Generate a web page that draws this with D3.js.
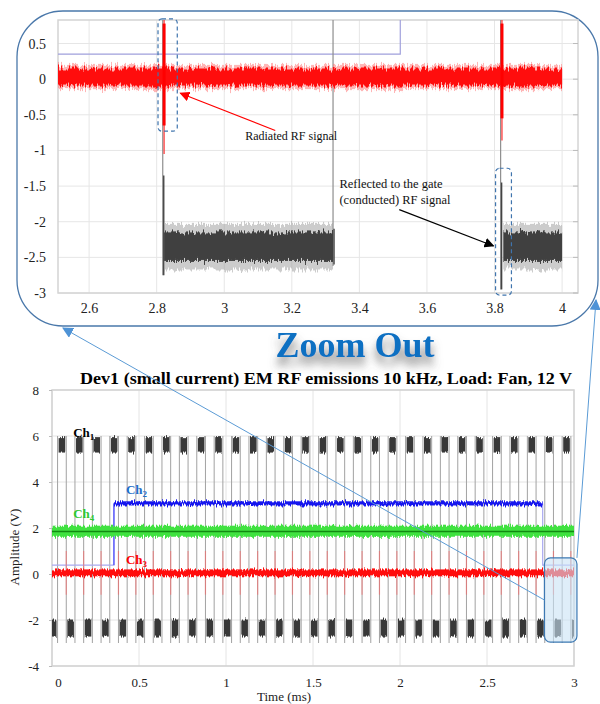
<!DOCTYPE html>
<html>
<head>
<meta charset="utf-8">
<script src="https://cdn.jsdelivr.net/npm/d3@7"></script>
<style>
body { margin: 0; background: #fff; }
svg { display: block; font-family: 'Liberation Serif', 'Times New Roman', serif; }
</style>
</head>
<body>
<svg id="chart" width="600" height="704"></svg>
<script>
// ---- main chart (0 - 3 ms) ----
const xTicks = [0, 0.5, 1, 1.5, 2, 2.5, 3]
const yTicks = [-4, -2, 0, 2, 4, 6, 8]

// Ch1 square wave edges (ms)
const ch1Rise = [0.032, 0.132, 0.232, 0.332, 0.432, 0.532, 0.632, 0.732, 0.832, 0.932,
    1.032, 1.132, 1.232, 1.332, 1.432, 1.532, 1.632, 1.732, 1.832, 1.932,
    2.032, 2.132, 2.232, 2.332, 2.432, 2.532, 2.632, 2.732, 2.832, 2.932]
const ch1Fall = [0.082, 0.182, 0.282, 0.382, 0.482, 0.582, 0.682, 0.782, 0.882, 0.982,
    1.082, 1.182, 1.282, 1.382, 1.482, 1.582, 1.682, 1.782, 1.882, 1.982,
    2.082, 2.182, 2.282, 2.382, 2.482, 2.582, 2.682, 2.782, 2.882, 2.982]
const ch1HighBand = [5.28, 5.95]
const ch1LowBand = [-2.72, -1.98]
const ch1EdgeRange = [-3.0, 6.0]

// Ch2 gate enable
const ch2Times = [0.356, 2.82]
const ch2Band = [2.98, 3.16]
const ch2Idle = [0.39]

// Ch3 radiated RF, Ch4 supply
const ch3Band = [-0.1, 0.2]
const ch3SpikeRange = [-0.9, 1.0]
const ch4Band = [1.62, 2.1]
const ch4Mid = [1.85]

// highlighted region in the main chart
const zoomBoxT = [2.83, 3.017]
const zoomBoxV = [-2.96, 0.7]

// ---- zoomed inset (2.5 - 4 ms) ----
const insetXTicks = [2.6, 2.8, 3, 3.2, 3.4, 3.6, 3.8, 4]
const insetYTicks = [-3, -2.5, -2, -1.5, -1, -0.5, 0, 0.5]
const insetRedBand = [-0.09, 0.15]
const insetRedEnd = [4.0]
const insetSpikeTimes = [2.822, 3.822]
const insetSpikeTop = [0.83, 0.83]
const insetSpikeBottom = [-1.05, -0.86]
const insetSpikeDense = [-0.65, -0.55]
const insetBlackStart = [2.822, 3.826]
const insetBlackEnd = [3.322, 4.0]
const insetBlackBand = [-2.55, -2.15]
const insetEdgeTimes = [2.818, 3.322, 3.818]
const insetEdgeFrom = [0.83, -2.62, 0.83]
const insetEdgeTo = [-2.75, 0.83, -2.95]
const insetDarkFrom = [-1.35, -2.6, -1.45]
const insetDarkTo = [-2.75, -2.1, -2.95]
const insetCh2T = [2.508, 3.521, 3.521]
const insetCh2V = [0.35, 0.35, 0.83]

const svg = d3.select('#chart')
const defs = svg.append('defs')

// jagged edges: vertical-only displacement of the bands
const addRough = (id, freq, scale) => {
    const f = defs.append('filter').attr('id', id).attr('filterUnits', 'userSpaceOnUse')
        .attr('x', 0).attr('y', 0).attr('width', 600).attr('height', 704)
    f.append('feTurbulence').attr('type', 'fractalNoise').attr('baseFrequency', freq)
        .attr('numOctaves', 2).attr('seed', 7).attr('result', 'n')
    f.append('feColorMatrix').attr('in', 'n').attr('type', 'matrix')
        .attr('values', '0 0 0 0 0.5  0 1 0 0 0  0 0 0 0 0  0 0 0 0 1').attr('result', 'ny')
    f.append('feDisplacementMap').attr('in', 'SourceGraphic').attr('in2', 'ny').attr('scale', scale)
        .attr('xChannelSelector', 'R').attr('yChannelSelector', 'G')
}
addRough('rough', '0.9 0.06', 7)
addRough('roughBig', '0.7 0.05', 12)

const shadow = defs.append('filter').attr('id', 'shadow').attr('x', '-20%').attr('y', '-40%').attr('width', '140%').attr('height', '200%')
shadow.append('feDropShadow').attr('dx', 0).attr('dy', 8).attr('stdDeviation', 5)
    .attr('flood-color', '#555').attr('flood-opacity', 0.75)

const addArrow = (id, color, size) => {
    defs.append('marker').attr('id', id).attr('viewBox', '0 0 10 10').attr('refX', 9).attr('refY', 5)
        .attr('markerWidth', size).attr('markerHeight', size).attr('markerUnits', 'userSpaceOnUse')
        .attr('orient', 'auto')
        .append('path').attr('d', 'M0,0 L10,5 L0,10 z').attr('fill', color)
}
addArrow('arRed', '#ff0000', 10)
addArrow('arBlack', '#000', 10)
addArrow('arBlue', '#4f93d6', 11)

// ================= main chart =================
const x = d3.scaleLinear().domain([0, 3]).range([52, 574])
const y = d3.scaleLinear().domain([-4, 8]).range([666, 390])

const main = svg.append('g')
main.selectAll('.gx').data(xTicks).enter().append('line')
    .attr('x1', d => x(d)).attr('x2', d => x(d)).attr('y1', y(-4)).attr('y2', y(8))
    .attr('stroke', '#e4e4e4')
main.selectAll('.gy').data(yTicks).enter().append('line')
    .attr('x1', x(0)).attr('x2', x(3)).attr('y1', d => y(d)).attr('y2', d => y(d))
    .attr('stroke', '#e4e4e4')
main.append('rect').attr('x', x(0)).attr('y', y(8)).attr('width', x(3) - x(0)).attr('height', y(-4) - y(8))
    .attr('fill', 'none').attr('stroke', '#d2d2d2').attr('stroke-width', 1.5)

const yAxis = main.append('g').attr('transform', `translate(${x(0)},0)`)
    .call(d3.axisLeft(y).tickValues(yTicks).tickSize(3).tickPadding(10).tickFormat(d => String(d)))
yAxis.select('.domain').remove()
yAxis.selectAll('line').attr('stroke', '#bbb')
yAxis.selectAll('text').attr('font-size', 13).attr('font-family', 'Liberation Serif').attr('fill', '#222')

const xAxis = main.append('g').attr('transform', `translate(0,${y(-4)})`)
    .call(d3.axisBottom(x).tickValues(xTicks).tickSize(0).tickPadding(12).tickFormat(d => String(d)))
xAxis.select('.domain').remove()
xAxis.selectAll('text').attr('font-size', 13).attr('font-family', 'Liberation Serif').attr('fill', '#222')
    .attr('dx', d => d === 0 ? 6 : 0)

// Ch1 edges
const ch1Edges = ch1Rise.concat(ch1Fall)
main.selectAll('.edge').data(ch1Edges).enter().append('line')
    .attr('x1', d => x(d)).attr('x2', d => x(d))
    .attr('y1', y(ch1EdgeRange[0])).attr('y2', y(ch1EdgeRange[1]))
    .attr('stroke', '#a2a2a2').attr('stroke-width', 1)

// Ch1 noisy levels
const gap = 0.006
const lowStarts = [0].concat(ch1Fall)
const lowEnds = ch1Rise.concat([3])
const ch1g = main.append('g').attr('filter', 'url(#rough)')
ch1g.selectAll('.hi').data(ch1Rise).enter().append('rect')
    .attr('x', (d, i) => x(d + gap)).attr('width', (d, i) => x(ch1Fall[i] - gap) - x(d + gap))
    .attr('y', y(ch1HighBand[1])).attr('height', y(ch1HighBand[0]) - y(ch1HighBand[1]))
    .attr('fill', '#383838')
ch1g.selectAll('.lo').data(lowStarts).enter().append('rect')
    .attr('x', (d, i) => x(i === 0 ? d : d + gap))
    .attr('width', (d, i) => Math.max(0, x(i === lowEnds.length - 1 ? lowEnds[i] : lowEnds[i] - gap) - x(i === 0 ? d : d + gap)))
    .attr('y', y(ch1LowBand[1])).attr('height', y(ch1LowBand[0]) - y(ch1LowBand[1]))
    .attr('fill', '#383838')

// Ch2 idle level and enable pulse
main.append('path')
    .attr('d', d3.line()([[x(0), y(ch2Idle[0])], [x(ch2Times[0]), y(ch2Idle[0])], [x(ch2Times[0]), y(3.07)]]))
    .attr('fill', 'none').attr('stroke', '#a9a9f0').attr('stroke-width', 1.2)
main.append('path')
    .attr('d', d3.line()([[x(ch2Times[1]), y(3.07)], [x(ch2Times[1]), y(ch2Idle[0])], [x(3), y(ch2Idle[0])]]))
    .attr('fill', 'none').attr('stroke', '#a9a9f0').attr('stroke-width', 1.2)
main.append('line').attr('x1', x(ch2Times[0])).attr('x2', x(ch2Times[0]))
    .attr('y1', y(ch2Idle[0])).attr('y2', y(3.07)).attr('stroke', '#3030ff').attr('stroke-width', 1)

// Ch4 band
main.append('rect').attr('x', x(0)).attr('width', x(3) - x(0))
    .attr('y', y(ch4Band[1])).attr('height', y(ch4Band[0]) - y(ch4Band[1]))
    .attr('fill', '#3fe23f').attr('filter', 'url(#rough)')
main.append('line').attr('x1', x(0)).attr('x2', x(3)).attr('y1', y(ch4Mid[0])).attr('y2', y(ch4Mid[0]))
    .attr('stroke', '#128a12').attr('stroke-width', 1.6)

// Ch3 spikes and band
main.selectAll('.sp').data(ch1Fall).enter().append('line')
    .attr('x1', d => x(d)).attr('x2', d => x(d))
    .attr('y1', y(ch3SpikeRange[0])).attr('y2', y(ch3SpikeRange[1]))
    .attr('stroke', '#ff6060').attr('stroke-width', 1.2).attr('opacity', 0.55)
main.append('rect').attr('x', x(0)).attr('width', x(3) - x(0))
    .attr('y', y(ch3Band[1])).attr('height', y(ch3Band[0]) - y(ch3Band[1]))
    .attr('fill', '#ff1010').attr('filter', 'url(#rough)')

// Ch2 band
main.append('rect').attr('x', x(ch2Times[0])).attr('width', x(ch2Times[1]) - x(ch2Times[0]))
    .attr('y', y(ch2Band[1])).attr('height', y(ch2Band[0]) - y(ch2Band[1]))
    .attr('fill', '#1414ee').attr('filter', 'url(#rough)')

// channel labels
const chLabel = (name, sub, tx, ty, color) => {
    const t = main.append('text').attr('x', x(tx)).attr('y', y(ty))
        .attr('font-size', 13).attr('font-weight', 'bold').attr('fill', color).text(name)
    t.append('tspan').attr('font-size', 9).attr('dy', 3).text(sub)
}
chLabel('Ch', '1', 0.122, 5.97, '#000')
chLabel('Ch', '2', 0.425, 3.48, '#1f6fc8')
chLabel('Ch', '4', 0.122, 2.43, '#2fc82f')
chLabel('Ch', '3', 0.425, 0.43, '#ff0000')

main.append('text').attr('transform', 'translate(19,547) rotate(-90)').attr('text-anchor', 'middle')
    .attr('font-size', 13).attr('fill', '#222').text('Amplitude (V)')
main.append('text').attr('x', 284).attr('y', 701).attr('text-anchor', 'middle')
    .attr('font-size', 13).attr('fill', '#222').text('Time (ms)')

main.append('text').attr('x', 80).attr('y', 384).attr('font-size', 17).attr('font-weight', 'bold')
    .attr('textLength', 492).attr('lengthAdjust', 'spacingAndGlyphs').attr('fill', '#000')
    .text('Dev1 (small current) EM RF emissions 10 kHz, Load: Fan, 12 V')

svg.append('text').attr('x', 355).attr('y', 357).attr('text-anchor', 'middle')
    .attr('font-size', 36).attr('font-weight', 'bold').attr('fill', '#0a6fc2')
    .attr('filter', 'url(#shadow)').text('Zoom Out')

// zoom box in main chart
main.append('rect').attr('x', x(zoomBoxT[0])).attr('y', y(zoomBoxV[1]))
    .attr('width', x(zoomBoxT[1]) - x(zoomBoxT[0])).attr('height', y(zoomBoxV[0]) - y(zoomBoxV[1]))
    .attr('rx', 6).attr('fill', '#c9e3f5').attr('fill-opacity', 0.6)
    .attr('stroke', '#3d79b3').attr('stroke-width', 1.2)

// ================= inset =================
const xi = d3.scaleLinear().domain([2.508, 4.047]).range([58, 578])
const yi = d3.scaleLinear().domain([-3, 0.83]).range([293, 20])
const inset = svg.append('g')

inset.append('rect').attr('x', 17).attr('y', 11).attr('width', 581).attr('height', 315).attr('rx', 46)
    .attr('fill', 'none').attr('stroke', '#4a78aa').attr('stroke-width', 1.3)

inset.selectAll('.gx').data(insetXTicks).enter().append('line')
    .attr('x1', d => xi(d)).attr('x2', d => xi(d)).attr('y1', yi(-3)).attr('y2', yi(0.83))
    .attr('stroke', '#e6e6e6')
inset.selectAll('.gy').data(insetYTicks).enter().append('line')
    .attr('x1', xi(2.508)).attr('x2', xi(4.047)).attr('y1', d => yi(d)).attr('y2', d => yi(d))
    .attr('stroke', '#e6e6e6')
inset.append('rect').attr('x', xi(2.508)).attr('y', yi(0.83))
    .attr('width', xi(4.047) - xi(2.508)).attr('height', yi(-3) - yi(0.83))
    .attr('fill', 'none').attr('stroke', '#d4d4d4').attr('stroke-width', 1.5)
inset.selectAll('.rt').data(insetYTicks).enter().append('line')
    .attr('x1', xi(4.047) - 5).attr('x2', xi(4.047)).attr('y1', d => yi(d)).attr('y2', d => yi(d))
    .attr('stroke', '#bbb')

const iyAxis = inset.append('g').attr('transform', `translate(${xi(2.508)},0)`)
    .call(d3.axisLeft(yi).tickValues(insetYTicks).tickSize(0).tickPadding(12).tickFormat(d => String(d)))
iyAxis.select('.domain').remove()
iyAxis.selectAll('text').attr('font-size', 14).attr('font-family', 'Liberation Serif').attr('fill', '#222')
const ixAxis = inset.append('g').attr('transform', `translate(0,${yi(-3)})`)
    .call(d3.axisBottom(xi).tickValues(insetXTicks).tickSize(0).tickPadding(10).tickFormat(d => String(d)))
ixAxis.select('.domain').remove()
ixAxis.selectAll('text').attr('font-size', 14).attr('font-family', 'Liberation Serif').attr('fill', '#222')

// Ch2 idle line
inset.append('path').attr('d', d3.line()(insetCh2T.map((t, i) => [xi(t), yi(insetCh2V[i])])))
    .attr('fill', 'none').attr('stroke', '#a0a0dc').attr('stroke-width', 1.2)

// Ch1 edges
inset.selectAll('.edge').data(insetEdgeTimes).enter().append('line')
    .attr('x1', d => xi(d)).attr('x2', d => xi(d))
    .attr('y1', (d, i) => yi(insetEdgeFrom[i])).attr('y2', (d, i) => yi(insetEdgeTo[i]))
    .attr('stroke', '#8e8e8e').attr('stroke-width', 1.2)
inset.selectAll('.dark').data(insetEdgeTimes).enter().append('line')
    .attr('x1', d => xi(d) + 1).attr('x2', d => xi(d) + 1)
    .attr('y1', (d, i) => yi(insetDarkFrom[i])).attr('y2', (d, i) => yi(insetDarkTo[i]))
    .attr('stroke', '#444').attr('stroke-width', 1.4)

// Ch1 low noisy segments
inset.selectAll('.bfr').data(insetBlackStart).enter().append('rect')
    .attr('x', d => xi(d)).attr('width', (d, i) => xi(insetBlackEnd[i]) - xi(d))
    .attr('y', yi(insetBlackBand[1] + 0.12)).attr('height', yi(insetBlackBand[0] - 0.12) - yi(insetBlackBand[1] + 0.12))
    .attr('fill', '#9a9a9a').attr('opacity', 0.5).attr('filter', 'url(#roughBig)')
inset.selectAll('.blk').data(insetBlackStart).enter().append('rect')
    .attr('x', d => xi(d)).attr('width', (d, i) => xi(insetBlackEnd[i]) - xi(d))
    .attr('y', yi(insetBlackBand[1])).attr('height', yi(insetBlackBand[0]) - yi(insetBlackBand[1]))
    .attr('fill', '#404040').attr('filter', 'url(#roughBig)')

// Ch3 red trace
inset.append('rect').attr('x', xi(2.508)).attr('width', xi(insetRedEnd[0]) - xi(2.508))
    .attr('y', yi(insetRedBand[1] + 0.05)).attr('height', yi(insetRedBand[0] - 0.05) - yi(insetRedBand[1] + 0.05))
    .attr('fill', '#ff7070').attr('opacity', 0.5).attr('filter', 'url(#roughBig)')
inset.append('rect').attr('x', xi(2.508)).attr('width', xi(insetRedEnd[0]) - xi(2.508))
    .attr('y', yi(insetRedBand[1])).attr('height', yi(insetRedBand[0]) - yi(insetRedBand[1]))
    .attr('fill', '#ff1010').attr('filter', 'url(#roughBig)')
inset.selectAll('.spk').data(insetSpikeTimes).enter().append('line')
    .attr('x1', d => xi(d)).attr('x2', d => xi(d))
    .attr('y1', (d, i) => yi(insetSpikeTop[i])).attr('y2', (d, i) => yi(insetSpikeBottom[i]))
    .attr('stroke', '#ff3030').attr('stroke-width', 1.2)
inset.selectAll('.spd').data(insetSpikeTimes).enter().append('line')
    .attr('x1', d => xi(d)).attr('x2', d => xi(d))
    .attr('y1', (d, i) => yi(insetSpikeTop[i] - 0.05)).attr('y2', (d, i) => yi(insetSpikeDense[i]))
    .attr('stroke', '#ff0000').attr('stroke-width', 3)

// annotations
inset.append('rect').attr('x', xi(2.804)).attr('y', yi(0.845))
    .attr('width', xi(2.861) - xi(2.804)).attr('height', yi(-0.73) - yi(0.845))
    .attr('rx', 4).attr('fill', 'none').attr('stroke', '#3f74ad').attr('stroke-width', 1.2).attr('stroke-dasharray', '4,3')
inset.append('rect').attr('x', xi(3.803)).attr('y', yi(-1.25))
    .attr('width', xi(3.850) - xi(3.803)).attr('height', yi(-3.03) - yi(-1.25))
    .attr('rx', 4).attr('fill', 'none').attr('stroke', '#3f74ad').attr('stroke-width', 1.2).attr('stroke-dasharray', '4,3')

inset.append('line').attr('x1', xi(3.151)).attr('y1', yi(-0.72)).attr('x2', xi(2.870)).attr('y2', yi(-0.197))
    .attr('stroke', '#ff0000').attr('stroke-width', 1.2).attr('marker-end', 'url(#arRed)')
inset.append('text').attr('x', xi(3.062)).attr('y', yi(-0.86)).attr('font-size', 12).attr('fill', '#111')
    .text('Radiated RF signal')

inset.append('line').attr('x1', xi(3.518)).attr('y1', yi(-1.83)).attr('x2', xi(3.797)).attr('y2', yi(-2.34))
    .attr('stroke', '#000').attr('stroke-width', 1.2).attr('marker-end', 'url(#arBlack)')
inset.append('text').attr('x', xi(3.341)).attr('y', yi(-1.52)).attr('font-size', 12.5).attr('fill', '#111')
    .text('Reflected  to the gate')
inset.append('text').attr('x', xi(3.341)).attr('y', yi(-1.75)).attr('font-size', 12.5).attr('fill', '#111')
    .text('(conducted) RF  signal')

// connectors from the zoom box to the inset
svg.append('line').attr('x1', x(zoomBoxT[0])).attr('y1', 600).attr('x2', 63).attr('y2', 328)
    .attr('stroke', '#5b9bd5').attr('stroke-width', 1).attr('marker-end', 'url(#arBlue)')
svg.append('line').attr('x1', x(zoomBoxT[1])).attr('y1', y(zoomBoxV[1])).attr('x2', 596).attr('y2', 300)
    .attr('stroke', '#5b9bd5').attr('stroke-width', 1).attr('marker-end', 'url(#arBlue)')
</script>
</body>
</html>
